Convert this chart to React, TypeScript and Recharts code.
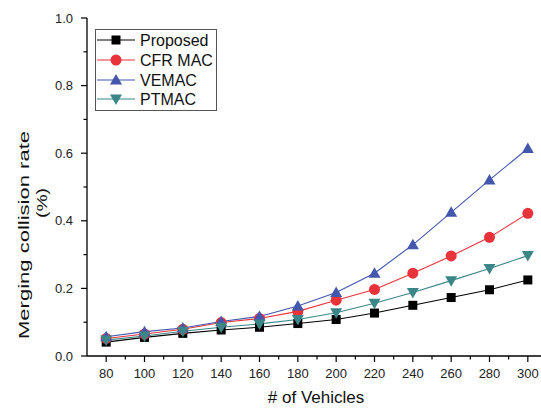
import React from "react";
import { LineChart, Line, XAxis, YAxis } from "recharts";

// number of vehicles on the x axis
const vehicles = [80, 100, 120, 140, 160, 180, 200, 220, 240, 260, 280, 300];

// merging collision rate per scheme
const proposed = [0.041, 0.055, 0.067, 0.077, 0.085, 0.096, 0.108, 0.127, 0.15, 0.173, 0.196, 0.225];
const cfrMac = [0.052, 0.065, 0.079, 0.099, 0.111, 0.132, 0.165, 0.197, 0.245, 0.296, 0.351, 0.422];
const vemac = [0.057, 0.072, 0.083, 0.102, 0.117, 0.148, 0.188, 0.245, 0.329, 0.425, 0.521, 0.614];
const ptmac = [0.047, 0.059, 0.073, 0.085, 0.095, 0.108, 0.128, 0.156, 0.188, 0.223, 0.259, 0.297];

const xTicks = [80, 90, 100, 110, 120, 130, 140, 150, 160, 170, 180, 190, 200, 210, 220, 230, 240, 250, 260, 270, 280, 290, 300, 310];
const yTicks = [0, 0.1, 0.2, 0.3, 0.4, 0.5, 0.6, 0.7, 0.8, 0.9, 1.0];

const FONT = "'Liberation Sans', Arial, sans-serif";

type Shape = "square" | "circle" | "up" | "down";

const series: { key: string; name: string; color: string; shape: Shape }[] = [
  { key: "proposed", name: "Proposed", color: "#000000", shape: "square" },
  { key: "cfr", name: "CFR MAC", color: "#e8333b", shape: "circle" },
  { key: "vemac", name: "VEMAC", color: "#4357ad", shape: "up" },
  { key: "ptmac", name: "PTMAC", color: "#3b8689", shape: "down" },
];

const data = vehicles.map((v, i) => ({
  vehicles: v,
  proposed: proposed[i],
  cfr: cfrMac[i],
  vemac: vemac[i],
  ptmac: ptmac[i],
}));

function Marker({ cx, cy, shape, color }: { cx: number; cy: number; shape: Shape; color: string }) {
  if (shape === "square") {
    return <rect x={cx - 4.5} y={cy - 4.5} width={9} height={9} fill={color} />;
  }
  if (shape === "circle") {
    return <circle cx={cx} cy={cy} r={5.5} fill={color} />;
  }
  if (shape === "up") {
    return <polygon points={`${cx},${cy - 6} ${cx + 6},${cy + 4.5} ${cx - 6},${cy + 4.5}`} fill={color} />;
  }
  return <polygon points={`${cx},${cy + 6} ${cx + 6},${cy - 4.5} ${cx - 6},${cy - 4.5}`} fill={color} />;
}

function XTick(props: any) {
  const { x, y, payload } = props;
  const v = payload.value;
  const major = v % 20 === 0;
  return (
    <g>
      <line x1={x} x2={x} y1={y} y2={y + (major ? 6 : 3.5)} stroke="#000" strokeWidth={1.2} />
      {major && v <= 300 && (
        <text x={x} y={y + 22} textAnchor="middle" fontSize={13} fontFamily={FONT} fill="#222">
          {v}
        </text>
      )}
    </g>
  );
}

function YTick(props: any) {
  const { x, y, payload } = props;
  const v = payload.value;
  const major = Math.round(v * 10) % 2 === 0;
  return (
    <g>
      <line x1={x - (major ? 6 : 3.5)} x2={x} y1={y} y2={y} stroke="#000" strokeWidth={1.2} />
      {major && (
        <text x={x - 14} y={y + 4.5} textAnchor="end" fontSize={13} fontFamily={FONT} fill="#222">
          {v.toFixed(1)}
        </text>
      )}
    </g>
  );
}

export default function App() {
  const rows = [40, 60, 80, 99];
  return (
    <div style={{ position: "fixed", left: 0, top: 0, width: 541, height: 408, overflow: "hidden", background: "#fff" }}>
      <LineChart width={560} height={408} data={data} margin={{ top: 18, right: 13, bottom: 0, left: 0 }}>
        <XAxis
          dataKey="vehicles"
          type="number"
          domain={[70, 310]}
          ticks={xTicks}
          interval={0}
          tickSize={0}
          tickMargin={0}
          tickLine={false}
          height={52}
          axisLine={{ stroke: "#000", strokeWidth: 1.3 }}
          tick={<XTick />}
        />
        <YAxis
          type="number"
          domain={[0, 1]}
          ticks={yTicks}
          interval={0}
          tickSize={0}
          tickMargin={0}
          tickLine={false}
          width={87}
          axisLine={{ stroke: "#000", strokeWidth: 1.3 }}
          tick={<YTick />}
        />
        {series.map((s) => (
          <Line
            key={s.key}
            dataKey={s.key}
            name={s.name}
            stroke={s.color}
            strokeWidth={1.1}
            isAnimationActive={false}
            dot={(p: any) => <Marker key={`${s.key}-${p.index}`} cx={p.cx} cy={p.cy} shape={s.shape} color={s.color} />}
            activeDot={false}
          />
        ))}
      </LineChart>
      <svg width={541} height={408} style={{ position: "absolute", left: 0, top: 0, pointerEvents: "none" }}>
        <text x={316} y={403} textAnchor="middle" fontSize={17} fontFamily={FONT} fill="#111">
          # of Vehicles
        </text>
        <text
          transform="translate(29,235) rotate(-90)"
          textAnchor="middle"
          fontSize={15}
          fontFamily={FONT}
          fill="#111"
          textLength={208}
          lengthAdjust="spacingAndGlyphs"
        >
          Merging collision rate
        </text>
        <text
          transform="translate(47,203) rotate(-90)"
          textAnchor="middle"
          fontSize={15}
          fontFamily={FONT}
          fill="#111"
          textLength={30}
          lengthAdjust="spacingAndGlyphs"
        >
          (%)
        </text>
        <rect x={95.5} y={29.5} width={121} height={81} fill="#fff" stroke="#555" strokeWidth={1} />
        {series.map((s, i) => (
          <g key={s.key}>
            <line x1={97} x2={135} y1={rows[i]} y2={rows[i]} stroke={s.color} strokeWidth={1.2} />
            <Marker cx={116} cy={rows[i]} shape={s.shape} color={s.color} />
            <text x={140} y={rows[i] + 6} fontSize={16} fontFamily={FONT} fill="#111">
              {s.name}
            </text>
          </g>
        ))}
      </svg>
    </div>
  );
}
